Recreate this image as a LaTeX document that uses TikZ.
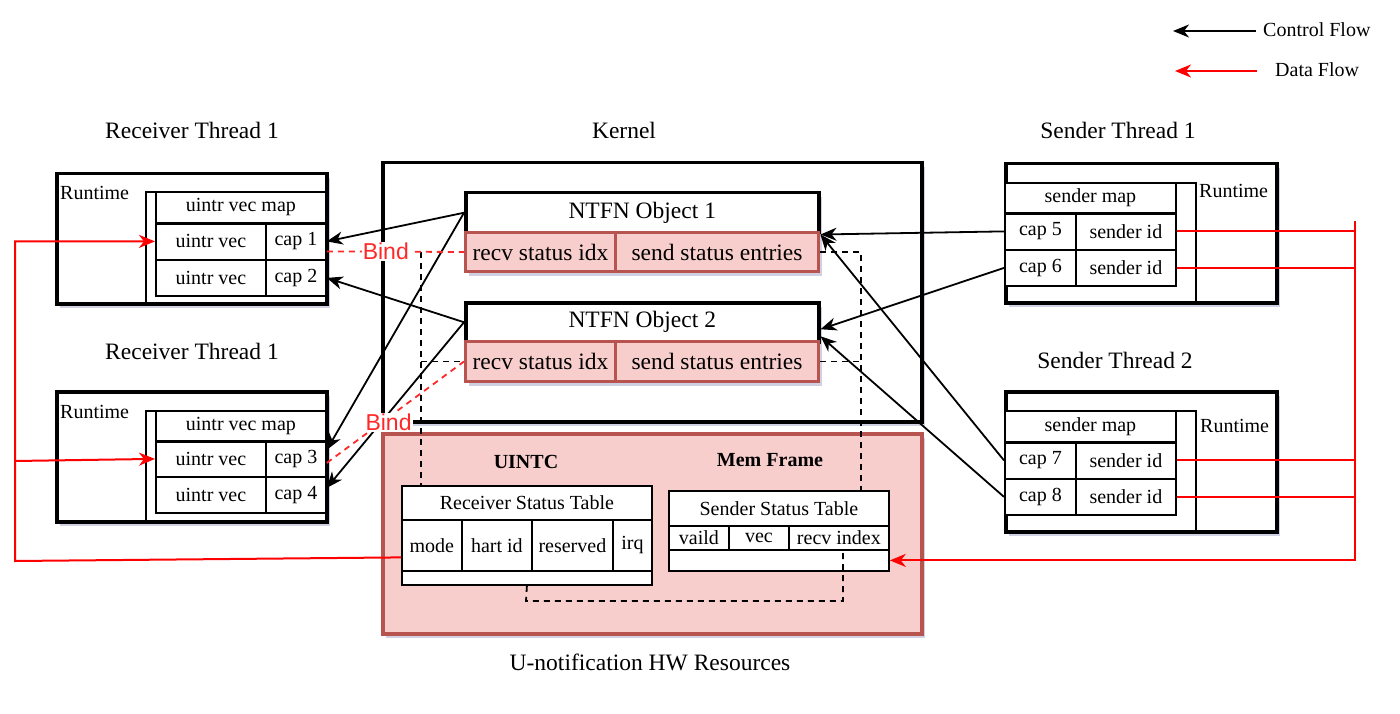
\documentclass[tikz,border=0pt]{standalone}
\usepackage{fontspec}
\setmainfont{Liberation Serif}
\newfontfamily\bindfont{Liberation Sans}
\usetikzlibrary{arrows.meta,shadows,calc}
\definecolor{pinkfill}{HTML}{F8CECC}
\definecolor{pinkline}{HTML}{B85450}
\definecolor{shcol}{RGB}{150,155,195}
\definecolor{datared}{RGB}{255,0,0}
\definecolor{bindred}{RGB}{255,40,40}
\newcommand\fTitle{\fontsize{23.5}{28}\selectfont}
\newcommand\fCell{\fontsize{20}{24}\selectfont}
\newcommand\fBind{\bindfont\fontsize{23}{27}\selectfont}
\newcommand\cellat[6][cellst]{\node[#1,minimum width=#4pt,minimum height=#5pt] (#2) at (#3) {#6};}
\tikzset{
  shad/.style={drop shadow={shadow xshift=3pt,shadow yshift=-4pt,fill=shcol,opacity=0.45}},
  outerbox/.style={draw,line width=3.5pt,fill=white,shad,anchor=north west,inner sep=0pt},
  thinbox/.style={draw,line width=1.8pt,anchor=north west,inner sep=0pt},
  cellst/.style={draw,line width=1.8pt,fill=white,anchor=north west,inner sep=0pt,font=\fCell},
  hdr/.style={draw,line width=3.5pt,fill=white,shad,anchor=north west,inner sep=0pt,font=\fTitle},
  pinkcell/.style={draw=pinkline,fill=pinkfill,line width=3pt,shad,anchor=north west,inner sep=0pt,font=\fTitle},
  hwbox/.style={draw=pinkline,fill=pinkfill,line width=3.5pt,shad,anchor=north west,inner sep=0pt},
  lbl/.style={inner sep=0pt},
  titletext/.style={inner sep=0pt,font=\fTitle},
  tip/.style={-{Stealth[length=16pt,width=13pt,inset=5pt]}},
  ctrl/.style={draw=black,line width=1.8pt,tip},
  data/.style={draw=datared,line width=2pt},
  arrowed/.style={tip},
  bind/.style={draw=bindred,line width=1.8pt,dash pattern=on 6pt off 5pt},
  bindlbl/.style={fill=white,text=bindred,font=\fBind,inner sep=1pt},
  blkdash/.style={draw=black,line width=1.8pt,dash pattern=on 6pt off 5pt},
  sep/.style={line width=2.8pt}
}
\begin{document}
\begin{tikzpicture}[x=1pt,y=-1pt]
\useasboundingbox (0,0) rectangle (1400,714);

% ---------- legend
\coordinate (cfA) at (1256,31);
\coordinate (cfB) at (1173,31);
\draw[ctrl] (cfA) -- (cfB);
\node[lbl,font=\fCell,anchor=west] (cfL) at (1263,30) {Control Flow};
\coordinate (dfA) at (1257,71);
\coordinate (dfB) at (1175,71);
\draw[data,arrowed] (dfA) -- (dfB);
\node[lbl,font=\fCell,anchor=west] (dfL) at (1275,70) {Data Flow};

% ---------- titles
\node[titletext] (tR1) at (192,130) {Receiver Thread 1};
\node[titletext] (tK) at (624,130) {Kernel};
\node[titletext] (tS1) at (1118,130) {Sender Thread 1};
\node[titletext] (tR2) at (192,351) {Receiver Thread 1};
\node[titletext] (tS2) at (1115,360) {Sender Thread 2};
\node[titletext] (tHW) at (650,662) {U-notification HW Resources};

% ---------- kernel
\node[outerbox,minimum width=539pt,minimum height=259pt] (kern) at (381,161) {};
\cellat[hdr]{n1h}{464,191}{353}{40}{NTFN Object 1}
\cellat[pinkcell]{recv1}{464,231}{150}{39}{recv status idx}
\cellat[pinkcell]{send1}{614,231}{203}{39}{send status entries}
\cellat[hdr]{n2h}{464,301}{353}{39}{NTFN Object 2}
\cellat[pinkcell]{recv2}{464,340}{150}{40}{recv status idx}
\cellat[pinkcell]{send2}{614,340}{203}{40}{send status entries}

% ---------- HW resources
\node[hwbox,minimum width=539pt,minimum height=200pt] (hw) at (381,432) {};
\node[lbl,font=\fCell\bfseries] (uintc) at (526,462) {UINTC};
\node[lbl,font=\fCell\bfseries] (memf) at (770,460) {Mem Frame};
\cellat{rstT}{401,485}{250}{34}{Receiver Status Table}
\cellat{rmode}{401,519}{60}{51}{mode}
\cellat{rhart}{461,519}{70}{51}{hart id}
\cellat{rres}{531,519}{81}{51}{reserved}
\cellat{rirq}{612,519}{39}{51}{irq}
\cellat{rstE}{401,570}{250}{14}{}
\cellat{sstT}{668,490}{220}{35}{Sender Status Table}
\cellat{svalid}{668,525}{60}{24}{vaild}
\cellat{svec}{728,525}{60}{24}{vec}
\cellat{sridx}{788,525}{100}{24}{recv index}
\cellat{sstE}{668,549}{220}{21}{}

% ---------- receiver thread (top)
\node[outerbox,minimum width=270pt,minimum height=130pt] (rt1) at (55,172) {};
\node[lbl,font=\fCell,anchor=base west] (rt1L) at (60,200) {Runtime};
\node[thinbox,minimum width=180pt,minimum height=111pt] (rt1c) at (145,191) {};
\cellat{map1}{155,191}{170}{31}{uintr vec map}
\cellat{vec1}{155,222}{110}{37}{uintr vec}
\cellat{cap1}{265,222}{60}{37}{cap 1}
\cellat{vec2}{155,259}{110}{36}{uintr vec}
\cellat{cap2}{265,259}{60}{36}{cap 2}
\draw[sep] (map1.south west) -- (map1.south east);

% ---------- receiver thread (bottom)
\node[outerbox,minimum width=270pt,minimum height=130pt] (rt2) at (55,390) {};
\node[lbl,font=\fCell,anchor=base west] (rt2L) at (60,418) {Runtime};
\node[thinbox,minimum width=180pt,minimum height=110pt] (rt2c) at (145,410) {};
\cellat{map2}{155,410}{170}{30}{uintr vec map}
\cellat{vec3}{155,440}{110}{36}{uintr vec}
\cellat{cap3}{265,440}{60}{36}{cap 3}
\cellat{vec4}{155,476}{110}{36}{uintr vec}
\cellat{cap4}{265,476}{60}{36}{cap 4}
\draw[sep] (map2.south west) -- (map2.south east);

% ---------- sender thread 1
\node[outerbox,minimum width=271pt,minimum height=139pt] (st1) at (1004,162) {};
\node[thinbox,minimum width=191pt,minimum height=119pt] (st1c) at (1004,182) {};
\node[lbl,font=\fCell,anchor=base west] (st1L) at (1199,198) {Runtime};
\cellat{smap1}{1004,182}{171}{30}{sender map}
\cellat{cap5}{1004,212}{71}{37}{cap 5}
\cellat{sid5}{1075,212}{100}{37}{sender id}
\cellat{cap6}{1004,249}{71}{36}{cap 6}
\cellat{sid6}{1075,249}{100}{36}{sender id}
\draw[sep] (smap1.south west) -- (smap1.south east);

% ---------- sender thread 2
\node[outerbox,minimum width=271pt,minimum height=140pt] (st2) at (1004,390) {};
\node[thinbox,minimum width=191pt,minimum height=120pt] (st2c) at (1004,410) {};
\node[lbl,font=\fCell,anchor=base west] (st2L) at (1200,432) {Runtime};
\cellat{smap2}{1004,410}{171}{31}{sender map}
\cellat{cap7}{1004,441}{71}{37}{cap 7}
\cellat{sid7}{1075,441}{100}{37}{sender id}
\cellat{cap8}{1004,478}{71}{36}{cap 8}
\cellat{sid8}{1075,478}{100}{36}{sender id}
\draw[sep] (smap2.south west) -- (smap2.south east);

% ---------- black dashed links
\coordinate (dlx) at (421,0);
\coordinate (drx) at (861,0);
\coordinate (dbot) at (526,601);
\draw[blkdash] (recv1.west -| dlx) -- (rstT.north -| dlx);
\draw[blkdash] (recv2.west -| dlx) -- (recv2.west);
\draw[blkdash] (send1.east) -| (sstT.north -| drx);
\draw[blkdash] (send2.east) -- (send2.east -| drx);
\draw[blkdash] (rstE.south) -- (dbot) -| ([xshift=64pt]sstE.north);

% ---------- control flow
\draw[ctrl] (n1h.west) -- (cap1.east);
\draw[ctrl] (n2h.west) -- (cap2.east);
\draw[ctrl] (n1h.west) -- ([yshift=9pt]cap3.east);
\draw[ctrl] (n2h.west) -- ([yshift=7pt]cap4.east);
\draw[ctrl] (cap5.west) -- (n1h.south east);
\draw[ctrl] (cap7.west) -- (n1h.south east);
\draw[ctrl] (cap6.west) -- ([yshift=-7pt]n2h.east);
\draw[ctrl] (cap8.west) -- ([yshift=-14pt]n2h.east);

% ---------- data flow (right)
\coordinate (busT) at (1355,221);
\draw[data] (sid5.east) -- (sid5.east -| busT);
\draw[data] (sid6.east) -- (sid6.east -| busT);
\draw[data] (sid7.east) -- (sid7.east -| busT);
\draw[data] (sid8.east) -- (sid8.east -| busT);
\draw[data,arrowed] (busT) |- (sstE.east);

% ---------- data flow (left)
\coordinate (lb) at (15,561);
\coordinate (lm) at (15,461);
\draw[data,arrowed] ([yshift=-12pt]rmode.west) -- (lb) |- (vec1.west);
\draw[data,arrowed] (lm) -- (vec3.west);

% ---------- bind
\draw[bind] ([yshift=-10pt]cap1.east) -- node[bindlbl,pos=0.43] (bind1) {Bind} (recv1.west);
\draw[bind] ([yshift=-4pt]cap3.east) -- node[bindlbl,pos=0.45,yshift=-5pt] (bind2) {Bind} (recv2.west);
\end{tikzpicture}
\end{document}
